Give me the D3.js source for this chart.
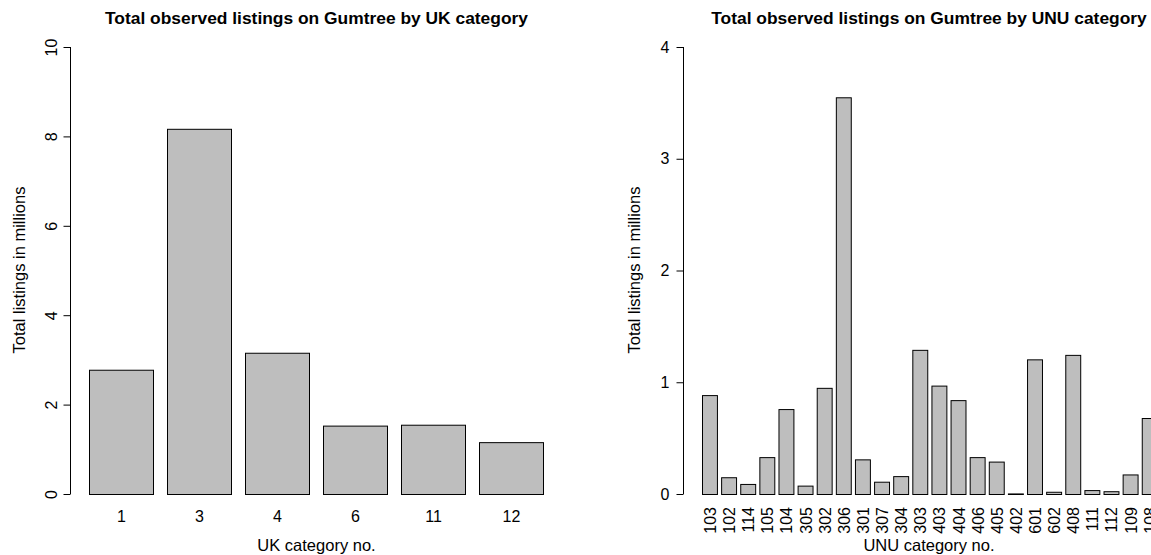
<!DOCTYPE html>
<html><head><meta charset="utf-8">
<script src="https://cdn.jsdelivr.net/npm/d3@7"></script>
<style>
html,body{margin:0;padding:0;background:#fff;overflow:hidden;}
text{font-family:"Liberation Sans",Arial,sans-serif;fill:#000;}
</style></head>
<body>
<svg id="chart" width="1151" height="555"></svg>
<script>
const ukCategories = ["1","3","4","6","11","12"];
const ukValues = [2.78, 8.17, 3.16, 1.53, 1.55, 1.16];
const ukTicks = [0,2,4,6,8,10];

const unuCategories = ["103","102","114","105","104","305","302","306","301","307","304","303","403","404","406","405","402","601","602","408","111","112","109","108"];
const unuValues = [0.885,0.15,0.09,0.33,0.76,0.075,0.95,3.55,0.31,0.11,0.16,1.29,0.97,0.84,0.33,0.29,0.005,1.205,0.02,1.245,0.035,0.025,0.175,0.68];
const unuTicks = [0,1,2,3,4];

const titles = ["Total observed listings on Gumtree by UK category","Total observed listings on Gumtree by UNU category"];
const xLabels = ["UK category no.","UNU category no."];
const yLabel = "Total listings in millions";

const svg = d3.select("#chart");
const BAR_FILL = "#bebebe";

// ---------- Left panel ----------
(function(){
  const g = svg.append("g");
  const x = d3.scaleBand().domain(ukCategories).range([89,544]).paddingInner(1/6).paddingOuter(0);
  const y = d3.scaleLinear().domain([0,10]).range([494,47]);
  g.selectAll("rect").data(ukValues).join("rect")
    .attr("x",(d,i)=>x(ukCategories[i])+0.5)
    .attr("y",d=>y(d)+0.5)
    .attr("width",x.bandwidth()-1)
    .attr("height",d=>y(0)-y(d))
    .attr("fill",BAR_FILL).attr("stroke","#000").attr("stroke-width",1);
  // y axis
  const ax = g.append("g").attr("transform","translate(70.5,0)")
    .call(d3.axisLeft(y).tickValues(ukTicks).tickSize(7).tickFormat(d3.format("d")));
  ax.select(".domain").attr("d",`M0,${y(0)}V${y(10)}`).attr("stroke","#000");
  ax.selectAll(".tick line").attr("stroke","#000");
  ax.selectAll(".tick text").attr("font-size",16)
    .attr("x",0).attr("dy",0).attr("text-anchor","middle")
    .attr("transform","translate(-14,0) rotate(-90)");
  ax.attr("font-family",null);
  // x category labels
  g.selectAll(".xl").data(ukCategories).join("text")
    .attr("x",d=>x(d)+x.bandwidth()/2).attr("y",522)
    .attr("text-anchor","middle").attr("font-size",16).text(d=>d);
  g.append("text").attr("x",316.5).attr("y",24).attr("text-anchor","middle")
    .attr("font-size",17.4).attr("font-weight","bold").text(titles[0]);
  g.append("text").attr("x",316.5).attr("y",551).attr("text-anchor","middle")
    .attr("font-size",16.5).text(xLabels[0]);
  g.append("text").attr("transform","translate(25,270) rotate(-90)").attr("text-anchor","middle")
    .attr("font-size",16.5).text(yLabel);
})();

// ---------- Right panel ----------
(function(){
  const g = svg.append("g");
  const step = 19.12;
  const x = d3.scaleBand().domain(unuCategories)
    .range([702, 702 + step*(unuCategories.length - 1/6)]).paddingInner(1/6).paddingOuter(0);
  const y = d3.scaleLinear().domain([0,4]).range([494,47]);
  g.selectAll("rect").data(unuValues).join("rect")
    .attr("x",(d,i)=>x(unuCategories[i])+0.5)
    .attr("y",d=>y(d)+0.5)
    .attr("width",x.bandwidth()-1)
    .attr("height",d=>Math.max(0,y(0)-y(d)))
    .attr("fill",BAR_FILL).attr("stroke","#000").attr("stroke-width",1);
  const ax = g.append("g").attr("transform","translate(683.5,0)")
    .call(d3.axisLeft(y).tickValues(unuTicks).tickSize(7).tickPadding(7).tickFormat(d3.format("d")));
  ax.select(".domain").attr("d",`M0,${y(0)}V${y(4)}`).attr("stroke","#000");
  ax.selectAll(".tick line").attr("stroke","#000");
  ax.selectAll(".tick text").attr("font-size",16);
  ax.attr("font-family",null);
  g.selectAll(".xl").data(unuCategories).join("text")
    .attr("transform",d=>`translate(${x(d)+x.bandwidth()/2+6},507) rotate(-90)`)
    .attr("text-anchor","end").attr("font-size",16).text(d=>d);
  g.append("text").attr("x",929).attr("y",24).attr("text-anchor","middle")
    .attr("font-size",17.4).attr("font-weight","bold").text(titles[1]);
  g.append("text").attr("x",929).attr("y",551).attr("text-anchor","middle")
    .attr("font-size",16.5).text(xLabels[1]);
  g.append("text").attr("transform","translate(640,270) rotate(-90)").attr("text-anchor","middle")
    .attr("font-size",16.5).text(yLabel);
})();
</script>
</body></html>
